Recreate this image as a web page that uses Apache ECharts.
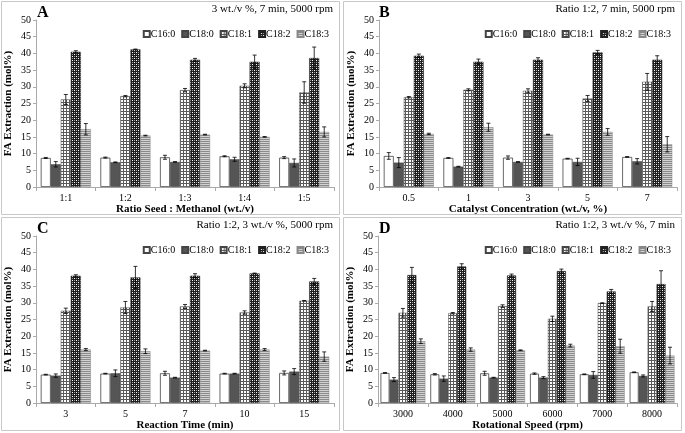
<!DOCTYPE html>
<html><head><meta charset="utf-8">
<script src="https://cdn.jsdelivr.net/npm/echarts@6/dist/echarts.min.js"></script>
<style>html,body{margin:0;padding:0;background:#fff}#c{width:685px;height:433px}</style>
</head><body><div id="c"></div>
<script>
const seriesNames = ['C16:0', 'C18:0', 'C18:1', 'C18:2', 'C18:3'];
const yTicks = [0, 50, 5]; // min, max, step
const yName = 'FA Extraction (mol%)';

const catsA = ['1:1', '1:2', '1:3', '1:4', '1:5'];
const valsA = [
  [8.7, 8.8, 8.9, 9.2, 8.8],
  [6.8, 7.4, 7.5, 8.3, 7.2],
  [26.2, 27.2, 29.0, 30.3, 28.3],
  [40.5, 41.2, 38.1, 37.5, 38.6],
  [17.3, 15.4, 15.7, 15.0, 16.5]
];
const errsA = [
  [0.15, 0.15, 0.6, 0.15, 0.3],
  [0.8, 0.1, 0.1, 0.6, 1.2],
  [1.5, 0.2, 0.5, 0.6, 3.2],
  [0.3, 0.1, 0.4, 2.0, 3.3],
  [1.7, 0.1, 0.1, 0.1, 1.5]
];
const subA = '3 wt./v %, 7 min, 5000 rpm';
const xNameA = 'Ratio Seed : Methanol (wt./v)';

const catsB = ['0.5', '1', '3', '5', '7'];
const valsB = [
  [9.3, 8.7, 8.8, 8.5, 9.0],
  [7.3, 6.1, 7.5, 7.5, 7.7],
  [26.9, 29.1, 28.8, 26.5, 31.5],
  [39.3, 37.5, 38.1, 40.3, 38.1],
  [15.9, 17.9, 15.7, 16.5, 12.8]
];
const errsB = [
  [1.0, 0.1, 0.5, 0.1, 0.1],
  [1.5, 0.1, 0.1, 1.1, 0.8],
  [0.2, 0.3, 0.6, 0.9, 2.5],
  [0.5, 0.8, 0.6, 0.6, 1.2],
  [0.2, 1.2, 0.1, 1.0, 2.3]
];
const subB = 'Ratio 1:2, 7 min, 5000 rpm';
const xNameB = 'Catalyst Concentration (wt./v, %)';

const catsC = ['3', '5', '7', '10', '15'];
const valsC = [
  [8.5, 8.8, 8.9, 8.8, 9.0],
  [8.2, 8.9, 7.6, 8.8, 9.4],
  [27.6, 28.6, 28.9, 27.1, 30.6],
  [38.1, 37.6, 38.1, 38.8, 36.4],
  [16.0, 15.5, 15.7, 16.0, 13.9]
];
const errsC = [
  [0.1, 0.1, 0.6, 0.1, 0.6],
  [0.5, 1.0, 0.1, 0.1, 0.9],
  [0.8, 1.8, 0.6, 0.5, 0.1],
  [0.3, 3.3, 0.6, 0.1, 0.9],
  [0.3, 0.7, 0.1, 0.3, 1.4]
];
const subC = 'Ratio 1:2, 3 wt./v %, 5000 rpm';
const xNameC = 'Reaction Time (min)';

const catsD = ['3000', '4000', '5000', '6000', '7000', '8000'];
const valsD = [
  [9.0, 8.6, 8.9, 8.8, 8.6, 9.2],
  [7.0, 7.3, 7.6, 7.6, 8.4, 8.1],
  [27.0, 26.9, 29.0, 25.2, 29.9, 28.9],
  [38.3, 40.9, 38.2, 39.5, 33.4, 35.6],
  [18.5, 16.0, 15.8, 17.2, 17.0, 14.2]
];
const errsD = [
  [0.1, 0.2, 0.6, 0.2, 0.1, 0.1],
  [0.6, 0.8, 0.1, 0.3, 1.0, 0.3],
  [1.3, 0.2, 0.4, 0.8, 0.1, 1.5],
  [2.3, 0.8, 0.4, 0.6, 0.6, 4.0],
  [0.7, 0.5, 0.1, 0.4, 2.1, 2.5]
];
const subD = 'Ratio 1:2, 3 wt./v %, 7 min';
const xNameD = 'Rotational Speed (rpm)';

// ---------- styling / layout ----------
const FONT = '"Liberation Serif", "Times New Roman", serif';

function tile(w, h, draw) {
  const c = document.createElement('canvas');
  c.width = w; c.height = h;
  const ctx = c.getContext('2d');
  draw(ctx);
  return { image: c, repeat: 'repeat' };
}
const patGrid = tile(3, 3, ctx => {
  ctx.fillStyle = '#ffffff'; ctx.fillRect(0, 0, 3, 3);
  ctx.fillStyle = '#5a5a5a'; ctx.fillRect(0, 0, 3, 1); ctx.fillRect(0, 0, 1, 3);
});
const patChecker = tile(4, 4, ctx => {
  ctx.fillStyle = '#1e1e1e'; ctx.fillRect(0, 0, 4, 4);
  ctx.fillStyle = '#ffffff'; ctx.fillRect(0, 0, 1, 1); ctx.fillRect(2, 2, 1, 1);
  ctx.fillStyle = '#9a9a9a'; ctx.fillRect(2, 0, 1, 1); ctx.fillRect(0, 2, 1, 1);
});
const patStripe = tile(2, 2, ctx => {
  ctx.fillStyle = '#d2d2d2'; ctx.fillRect(0, 0, 2, 2);
  ctx.fillStyle = '#8a8a8a'; ctx.fillRect(0, 1, 2, 1);
});
const seriesStyles = [
  { color: '#ffffff', borderColor: '#444', borderWidth: 0.8 },
  { color: '#555555', borderColor: '#444', borderWidth: 0.5 },
  { color: patGrid, borderColor: '#444', borderWidth: 0.5 },
  { color: patChecker, borderColor: '#222', borderWidth: 0.5 },
  { color: patStripe, borderColor: '#888', borderWidth: 0.5 }
];

const panels = [
  { letter: 'A', sub: subA, xName: xNameA, cats: catsA, vals: valsA, errs: errsA, ox: 0, oy: 0, left: 36, gap: 0.16 },
  { letter: 'B', sub: subB, xName: xNameB, cats: catsB, vals: valsB, errs: errsB, ox: 342, oy: 0, left: 37, gap: 0.16 },
  { letter: 'C', sub: subC, xName: xNameC, cats: catsC, vals: valsC, errs: errsC, ox: 0, oy: 216, left: 36, gap: 0.16 },
  { letter: 'D', sub: subD, xName: xNameD, cats: catsD, vals: valsD, errs: errsD, ox: 342, oy: 216, left: 36, gap: 0.10 }
];

const option = { animation: false, backgroundColor: '#fff', grid: [], xAxis: [], yAxis: [], series: [], legend: [], graphic: [] };

panels.forEach((p, gi) => {
  const gLeft = p.ox + p.left, gTop = p.oy + 20, gW = 334 - p.left + (p.ox ? 1 : 0), gH = 167;
  option.grid.push({ left: gLeft, top: gTop, width: gW, height: gH });
  option.xAxis.push({
    type: 'category', gridIndex: gi, data: p.cats,
    axisLine: { lineStyle: { color: '#aaa', width: 1 } },
    axisTick: { show: true, length: 4, lineStyle: { color: '#aaa' } },
    axisLabel: { fontFamily: FONT, fontSize: 10, color: '#000', margin: 6 },
    name: p.xName, nameLocation: 'middle', nameGap: 17,
    nameTextStyle: { fontFamily: FONT, fontSize: 11, fontWeight: 'bold', color: '#000', verticalAlign: 'top' }
  });
  option.yAxis.push({
    type: 'value', gridIndex: gi, min: yTicks[0], max: yTicks[1], interval: yTicks[2],
    axisLine: { show: true, lineStyle: { color: '#aaa', width: 1 } },
    axisTick: { show: true, length: 3, lineStyle: { color: '#aaa' } },
    splitLine: { show: false },
    axisLabel: { fontFamily: FONT, fontSize: 10, color: '#000', margin: 5 },
    name: yName, nameLocation: 'middle', nameGap: 22, nameRotate: 90,
    nameTextStyle: { fontFamily: FONT, fontSize: 11, fontWeight: 'bold', color: '#000' }
  });
  seriesNames.forEach((nm, si) => {
    option.series.push({
      type: 'bar', name: nm, xAxisIndex: gi, yAxisIndex: gi,
      data: p.vals[si], barGap: '0%', barCategoryGap: (p.gap * 100) + '%',
      itemStyle: seriesStyles[si], emphasis: { disabled: true }, z: 2
    });
  });
  seriesNames.forEach((nm, si) => {
    option.series.push({
      type: 'custom', name: 'err' + gi + '_' + si, xAxisIndex: gi, yAxisIndex: gi, z: 5,
      data: p.vals[si].map((v, i) => [i, v, p.errs[si][i]]),
      renderItem: (params, api) => {
        const ci = api.value(0), v = api.value(1), e = api.value(2);
        const band = api.size([1, 0])[0];
        const bw = band * (1 - p.gap) / 5;
        const cx = api.coord([ci, v])[0] + (si - 2) * bw;
        const yTop = api.coord([ci, v + e])[1];
        const yBot = api.coord([ci, v - e])[1];
        const cap = 2;
        const st = { stroke: '#000', lineWidth: 0.8 };
        return { type: 'group', children: [
          { type: 'line', shape: { x1: cx, y1: yTop, x2: cx, y2: yBot }, style: st },
          { type: 'line', shape: { x1: cx - cap, y1: yTop, x2: cx + cap, y2: yTop }, style: st },
          { type: 'line', shape: { x1: cx - cap, y1: yBot, x2: cx + cap, y2: yBot }, style: st }
        ] };
      }
    });
  });
  option.legend.push({
    data: seriesNames, right: 685 - (p.ox + 329), top: p.oy + 29, padding: 0,
    icon: 'rect', itemWidth: 6, itemHeight: 6, itemGap: 6,
    textStyle: { fontFamily: FONT, fontSize: 10, color: '#000', padding: [0, 0, 0, -4] },
    selectedMode: false
  });
  option.graphic.push({
    type: 'rect', shape: { x: p.ox + 1.5, y: p.oy + 1.5, width: 338, height: 213 },
    style: { fill: 'none', stroke: '#c8c8c8', lineWidth: 1 }, silent: true
  });
  option.graphic.push({
    type: 'text', left: p.ox + 37, top: p.oy + 5,
    style: { text: p.letter, font: 'bold 16px ' + FONT, fill: '#000' }
  });
  option.graphic.push({
    type: 'text', right: 685 - (p.ox + 333), top: p.oy + 4,
    style: { text: p.sub, font: '11px ' + FONT, fill: '#000' }
  });
});

const chart = echarts.init(document.getElementById('c'), null, { renderer: 'canvas' });
chart.setOption(option);
</script></body></html>
